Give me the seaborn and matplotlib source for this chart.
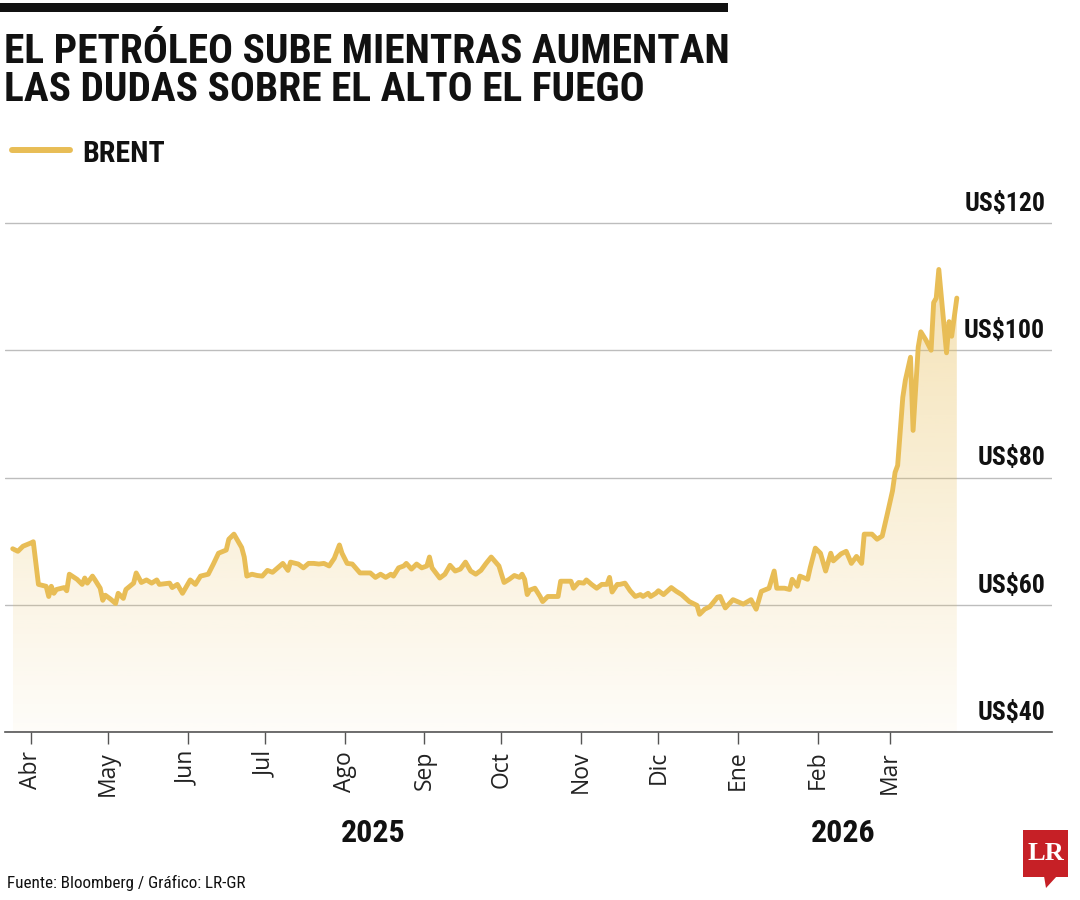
import numpy as np
import pandas as pd
import matplotlib
matplotlib.use('Agg')
import matplotlib.pyplot as plt
import matplotlib.dates as mdates
import matplotlib.transforms as mtransforms
from matplotlib.patches import Rectangle, Polygon
from matplotlib.lines import Line2D
from matplotlib.colors import to_rgb
import seaborn as sns

# --- datos (Brent, US$ por barril) ---
fechas = [
    '2025-03-25', '2025-03-27', '2025-03-29', '2025-04-01', '2025-04-02', '2025-04-04', '2025-04-07',
    '2025-04-08', '2025-04-09', '2025-04-10', '2025-04-11', '2025-04-14', '2025-04-15', '2025-04-16',
    '2025-04-19', '2025-04-21', '2025-04-22', '2025-04-23', '2025-04-25', '2025-04-26', '2025-04-28',
    '2025-04-29', '2025-04-30', '2025-05-02', '2025-05-04', '2025-05-05', '2025-05-07', '2025-05-08',
    '2025-05-11', '2025-05-12', '2025-05-14', '2025-05-16', '2025-05-18', '2025-05-20', '2025-05-21',
    '2025-05-25', '2025-05-26', '2025-05-28', '2025-05-30', '2025-06-02', '2025-06-04', '2025-06-06',
    '2025-06-09', '2025-06-11', '2025-06-13', '2025-06-16', '2025-06-17', '2025-06-19', '2025-06-22',
    '2025-06-23', '2025-06-24', '2025-06-26', '2025-06-28', '2025-06-30', '2025-07-02', '2025-07-04',
    '2025-07-06', '2025-07-08', '2025-07-10', '2025-07-11', '2025-07-14', '2025-07-16', '2025-07-18',
    '2025-07-20', '2025-07-22', '2025-07-24', '2025-07-26', '2025-07-28', '2025-07-30', '2025-07-31',
    '2025-08-02', '2025-08-04', '2025-08-07', '2025-08-09', '2025-08-11', '2025-08-13', '2025-08-15',
    '2025-08-17', '2025-08-19', '2025-08-20', '2025-08-22', '2025-08-24', '2025-08-25', '2025-08-27',
    '2025-08-29', '2025-08-31', '2025-09-02', '2025-09-03', '2025-09-04', '2025-09-07', '2025-09-09',
    '2025-09-11', '2025-09-13', '2025-09-15', '2025-09-17', '2025-09-19', '2025-09-21', '2025-09-23',
    '2025-09-25', '2025-09-27', '2025-09-30', '2025-10-02', '2025-10-04', '2025-10-06', '2025-10-08',
    '2025-10-09', '2025-10-10', '2025-10-11', '2025-10-12', '2025-10-14', '2025-10-16', '2025-10-17',
    '2025-10-19', '2025-10-22', '2025-10-23', '2025-10-24', '2025-10-26', '2025-10-28', '2025-10-29',
    '2025-10-31', '2025-11-02', '2025-11-03', '2025-11-05', '2025-11-07', '2025-11-09', '2025-11-11',
    '2025-11-12', '2025-11-13', '2025-11-15', '2025-11-16', '2025-11-18', '2025-11-20', '2025-11-22',
    '2025-11-24', '2025-11-25', '2025-11-27', '2025-11-28', '2025-11-30', '2025-12-01', '2025-12-03',
    '2025-12-06', '2025-12-08', '2025-12-10', '2025-12-13', '2025-12-16', '2025-12-17', '2025-12-19',
    '2025-12-21', '2025-12-24', '2025-12-25', '2025-12-27', '2025-12-30', '2026-01-03', '2026-01-06',
    '2026-01-08', '2026-01-10', '2026-01-13', '2026-01-15', '2026-01-16', '2026-01-19', '2026-01-21',
    '2026-01-22', '2026-01-24', '2026-01-25', '2026-01-28', '2026-01-29', '2026-01-31', '2026-02-02',
    '2026-02-04', '2026-02-06', '2026-02-07', '2026-02-10', '2026-02-12', '2026-02-14', '2026-02-16',
    '2026-02-18', '2026-02-19', '2026-02-22', '2026-02-24', '2026-02-26', '2026-02-28', '2026-03-02',
    '2026-03-03', '2026-03-04', '2026-03-06', '2026-03-07', '2026-03-09', '2026-03-10', '2026-03-12',
    '2026-03-13', '2026-03-15', '2026-03-17', '2026-03-18', '2026-03-19', '2026-03-20', '2026-03-23',
    '2026-03-24', '2026-03-25', '2026-03-27',
]
brent = [
    68.8, 68.4, 69.2, 69.7, 69.9, 63.2, 62.9,
    61.3, 62.9, 61.8, 62.4, 62.7, 62.2, 64.8,
    64.0, 63.2, 64.2, 63.4, 64.5, 63.9, 62.6,
    60.7, 61.5, 60.9, 60.2, 61.8, 61.0, 62.4,
    63.4, 65.0, 63.5, 63.9, 63.4, 63.9, 63.2,
    63.4, 62.7, 63.2, 61.8, 63.9, 63.2, 64.5,
    64.8, 66.4, 68.1, 68.6, 70.3, 71.1, 69.0,
    67.5, 64.5, 64.8, 64.6, 64.5, 65.4, 65.1,
    65.8, 66.5, 65.4, 66.7, 66.4, 65.8, 66.5,
    66.5, 66.4, 66.5, 66.1, 67.3, 69.4, 68.1,
    66.5, 66.4, 65.0, 65.0, 65.0, 64.3, 64.8,
    64.3, 64.8, 64.5, 65.8, 66.1, 66.5, 65.6,
    66.4, 65.8, 66.1, 67.5, 65.8, 64.2, 64.8,
    66.2, 65.3, 65.6, 66.7, 65.3, 64.8, 65.4,
    66.5, 67.5, 66.1, 63.5, 64.0, 64.6, 64.3,
    64.8, 64.0, 61.6, 62.3, 62.6, 61.3, 60.5,
    61.3, 61.3, 61.3, 63.7, 63.7, 63.7, 62.6,
    63.5, 63.4, 63.9, 63.2, 62.6, 63.2, 63.2,
    64.3, 62.0, 63.2, 63.2, 63.4, 62.2, 61.3,
    61.6, 61.3, 61.8, 61.3, 61.8, 62.2, 61.6,
    62.7, 62.1, 61.6, 60.5, 59.9, 58.5, 59.3,
    59.7, 61.2, 61.3, 59.5, 60.8, 60.1, 60.8,
    59.3, 62.1, 62.6, 65.3, 62.6, 62.6, 62.4,
    64.0, 62.9, 64.5, 64.0, 65.8, 68.9, 68.1,
    65.3, 68.1, 66.9, 68.0, 68.4, 66.5, 67.6,
    66.5, 71.1, 71.1, 70.3, 70.8, 74.3, 77.9,
    80.8, 81.9, 92.6, 95.3, 98.9, 87.4, 100.5,
    102.9, 101.6, 100.0, 107.5, 108.2, 112.7, 99.6,
    104.5, 102.2, 108.2,
]
meses = ['Abr', 'May', 'Jun', 'Jul', 'Ago', 'Sep', 'Oct', 'Nov', 'Dic', 'Ene', 'Feb', 'Mar']
niveles = [40, 60, 80, 100, 120]
anios = ['2025', '2026']

GOLD = '#E8BD56'
GRID = '#BDBDBD'
NARROW = ['Roboto Condensed', 'Roboto', 'DejaVu Sans']

df = pd.DataFrame({'fecha': pd.to_datetime(fechas), 'brent': brent})

sns.set_style('white')
plt.rcParams['font.family'] = NARROW

fig = plt.figure(figsize=(10.8, 9), dpi=100)
ax = fig.add_axes([5 / 1080, 1 - 732 / 900, 1047 / 1080, 540.8 / 900])

sns.lineplot(data=df, x='fecha', y='brent', color=GOLD, linewidth=3.5, ax=ax, zorder=3)
for ln in ax.lines:
    ln.set_solid_joinstyle('round')
    ln.set_solid_capstyle('round')

# relleno con degradado bajo la curva
poly = ax.fill_between(df['fecha'], 40, df['brent'], color='none', lw=0)
clip = poly.get_paths()[0]
x0 = mdates.date2num(df['fecha'].iloc[0])
x1 = mdates.date2num(df['fecha'].iloc[-1])
grad = np.zeros((256, 1, 4))
grad[..., :3] = to_rgb(GOLD)
grad[..., 3] = np.linspace(0.44, 0.04, 256)[:, None]
im = ax.imshow(grad, extent=[x0, x1, 40, 115], aspect='auto', origin='upper', zorder=1)
im.set_clip_path(clip, ax.transData)

ax.set_xlim(pd.Timestamp('2025-03-22'), pd.Timestamp('2026-05-03'))
ax.set_ylim(40, 125)

ticks = pd.date_range('2025-04-01', periods=len(meses), freq='MS')
ax.set_xticks(ticks)
ax.set_xticklabels(meses, rotation=90, fontsize=16.5, family=['Open Sans', 'DejaVu Sans'], color='#222222')
ax.tick_params(axis='x', direction='out', length=8.5, width=1, color='#555555', pad=5, bottom=True)
ax.set_xlabel('')
ax.set_ylabel('')

ax.set_yticks(niveles)
ax.set_yticklabels([])
ax.tick_params(axis='y', length=0)
ax.yaxis.grid(True, color=GRID, lw=1)
ax.xaxis.grid(False)
for s in ['left', 'right', 'top']:
    ax.spines[s].set_visible(False)
ax.spines['bottom'].set_color('#555555')
ax.spines['bottom'].set_linewidth(1.2)
ax.set_axisbelow(True)

ytr = mtransforms.blended_transform_factory(ax.transAxes, ax.transData)
for v in niveles:
    ax.text(0.9935, v + 1.9, f'US${v}', transform=ytr, ha='right', va='baseline',
            fontsize=18.5, fontweight='bold', color='#111111')

# años bajo el eje
xtr = mtransforms.blended_transform_factory(ax.transData, fig.transFigure)
for lab, when in zip(anios, ['2025-08-12', '2026-02-11']):
    ax.text(mdates.date2num(pd.Timestamp(when)), 1 - 842 / 900, lab, transform=xtr,
            ha='center', va='baseline', fontsize=23, fontweight='bold', color='#111111')

# barra negra y título
fig.patches.append(Rectangle((0, 1 - 12 / 900), 728 / 1080, 9 / 900, transform=fig.transFigure,
                             color='#111111', lw=0))
fig.text(4 / 1080, 1 - 63 / 900, 'EL PETRÓLEO SUBE MIENTRAS AUMENTAN', fontsize=29.8,
         fontweight='bold', va='baseline', ha='left', color='#111111')
fig.text(4 / 1080, 1 - 101 / 900, 'LAS DUDAS SOBRE EL ALTO EL FUEGO', fontsize=29.8,
         fontweight='bold', va='baseline', ha='left', color='#111111')

# leyenda
fig.lines.append(Line2D([12 / 1080, 70 / 1080], [1 - 150 / 900] * 2, transform=fig.transFigure,
                        color=GOLD, lw=4.3, solid_capstyle='round'))
fig.text(82 / 1080, 1 - 162 / 900, 'BRENT', fontsize=21.5, fontweight='bold', va='baseline',
         color='#111111')

# fuente
fig.text(7 / 1080, 1 - 888 / 900, 'Fuente: Bloomberg / Gráfico: LR-GR', fontsize=12.3,
         va='baseline', color='#111111')

# logo LR
RED = '#C62026'
fig.patches.append(Rectangle((1023 / 1080, 1 - 877 / 900), 45 / 1080, 47 / 900,
                             transform=fig.transFigure, color=RED, lw=0))
fig.patches.append(Polygon([(1044 / 1080, 1 - 876 / 900), (1057 / 1080, 1 - 876 / 900),
                            (1046 / 1080, 1 - 888 / 900)], closed=True,
                           transform=fig.transFigure, color=RED, lw=0))
fig.text(1045.5 / 1080, 1 - 854 / 900, 'LR', fontsize=19, fontweight='bold', color='white',
         ha='center', va='center', family=['Liberation Serif', 'DejaVu Serif'])

fig.savefig('out.png', dpi=100, facecolor='white')
